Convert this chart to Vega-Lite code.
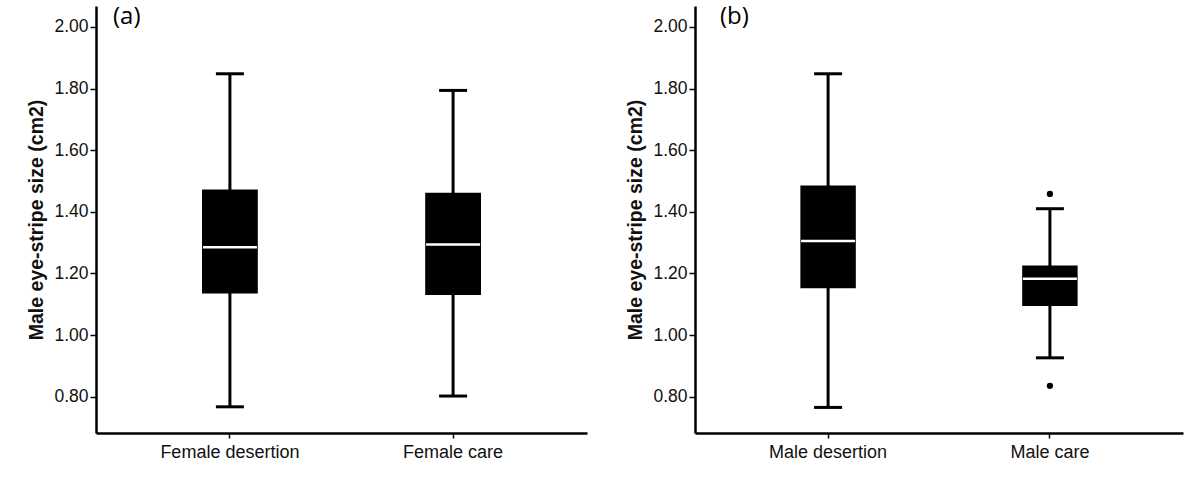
{
  "$schema": "https://vega.github.io/schema/vega-lite/v6.json",
  "padding": {"left": 26, "top": 5, "right": 15, "bottom": 0},
  "spacing": 38,
  "background": "white",
  "config": {
    "view": {"stroke": null},
    "font": "Liberation Sans",
    "axis": {
      "domainColor": "black", "domainWidth": 2.5, "tickColor": "black", "tickWidth": 1.5,
      "labelColor": "#111", "titleColor": "#111", "grid": false
    },
    "axisX": {"labelFontSize": 18, "labelAngle": 0, "tickSize": 5, "labelPadding": 5, "title": null},
    "axisY": {"labelFontSize": 17.5, "tickSize": 6, "labelPadding": 2, "titleFontSize": 19.5, "titleFontWeight": "bold", "titlePadding": 7},
    "title": {"anchor": "start", "frame": "group", "offset": -23, "baseline": "alphabetic", "fontSize": 24, "fontWeight": "normal", "font": "Open Sans", "color": "black"}
  },
  "datasets": {
    "stats": [
      {"panel": "a", "group": "Female desertion", "lower": 0.767, "q1": 1.135, "median": 1.285, "q3": 1.472, "upper": 1.848},
      {"panel": "a", "group": "Female care", "lower": 0.802, "q1": 1.13, "median": 1.294, "q3": 1.462, "upper": 1.794},
      {"panel": "b", "group": "Male desertion", "lower": 0.765, "q1": 1.152, "median": 1.305, "q3": 1.485, "upper": 1.848},
      {"panel": "b", "group": "Male care", "lower": 0.926, "q1": 1.094, "median": 1.183, "q3": 1.226, "upper": 1.41}
    ],
    "outliers": [
      {"panel": "b", "group": "Male care", "value": 1.458},
      {"panel": "b", "group": "Male care", "value": 0.835}
    ]
  },
  "hconcat": [
    {
      "title": {"text": "(a)", "dx": 17},
      "width": 491, "height": 427,
      "data": {"name": "stats"},
      "transform": [{"filter": "datum.panel === 'a'"}],
      "encoding": {
        "x": {"field": "group", "type": "nominal", "sort": ["Female desertion", "Female care"],
              "scale": {"type": "band", "paddingInner": 0, "paddingOuter": 0.1}}
      },
      "layer": [
        {"mark": {"type": "rule", "color": "black", "strokeWidth": 3},
         "encoding": {"y": {"field": "lower", "type": "quantitative", "title": "Male eye-stripe size (cm2)", "scale": {"domain": [0.682, 2.068], "nice": false, "zero": false}, "axis": {"values": [0.8, 1.0, 1.2, 1.4, 1.6, 1.8, 2.0], "format": ".2f"}}, "y2": {"field": "upper"}}},
        {"mark": {"type": "tick", "color": "black", "thickness": 3, "size": 28, "opacity": 1},
         "encoding": {"y": {"field": "lower", "type": "quantitative", "title": "Male eye-stripe size (cm2)", "scale": {"domain": [0.682, 2.068], "nice": false, "zero": false}}}},
        {"mark": {"type": "tick", "color": "black", "thickness": 3, "size": 28, "opacity": 1},
         "encoding": {"y": {"field": "upper", "type": "quantitative", "title": "Male eye-stripe size (cm2)", "scale": {"domain": [0.682, 2.068], "nice": false, "zero": false}}}},
        {"mark": {"type": "bar", "color": "black", "width": {"band": 0.25}},
         "encoding": {"y": {"field": "q1", "type": "quantitative", "title": "Male eye-stripe size (cm2)", "scale": {"domain": [0.682, 2.068], "nice": false, "zero": false}}, "y2": {"field": "q3"}}},
        {"mark": {"type": "tick", "color": "white", "thickness": 2.5, "size": 54, "opacity": 1},
         "encoding": {"y": {"field": "median", "type": "quantitative", "title": "Male eye-stripe size (cm2)", "scale": {"domain": [0.682, 2.068], "nice": false, "zero": false}}}}
      ]
    },
    {
      "title": {"text": "(b)", "dx": 25},
      "width": 488, "height": 427,
      "encoding": {
        "x": {"field": "group", "type": "nominal", "sort": ["Male desertion", "Male care"],
              "scale": {"type": "band", "paddingInner": 0, "paddingOuter": 0.1}}
      },
      "layer": [
        {"data": {"name": "stats"}, "transform": [{"filter": "datum.panel === 'b'"}],
         "mark": {"type": "rule", "color": "black", "strokeWidth": 3},
         "encoding": {"y": {"field": "lower", "type": "quantitative", "title": "Male eye-stripe size (cm2)", "scale": {"domain": [0.682, 2.068], "nice": false, "zero": false}, "axis": {"values": [0.8, 1.0, 1.2, 1.4, 1.6, 1.8, 2.0], "format": ".2f"}}, "y2": {"field": "upper"}}},
        {"data": {"name": "stats"}, "transform": [{"filter": "datum.panel === 'b'"}],
         "mark": {"type": "tick", "color": "black", "thickness": 3, "size": 28, "opacity": 1},
         "encoding": {"y": {"field": "lower", "type": "quantitative", "title": "Male eye-stripe size (cm2)", "scale": {"domain": [0.682, 2.068], "nice": false, "zero": false}}}},
        {"data": {"name": "stats"}, "transform": [{"filter": "datum.panel === 'b'"}],
         "mark": {"type": "tick", "color": "black", "thickness": 3, "size": 28, "opacity": 1},
         "encoding": {"y": {"field": "upper", "type": "quantitative", "title": "Male eye-stripe size (cm2)", "scale": {"domain": [0.682, 2.068], "nice": false, "zero": false}}}},
        {"data": {"name": "stats"}, "transform": [{"filter": "datum.panel === 'b'"}],
         "mark": {"type": "bar", "color": "black", "width": {"band": 0.25}},
         "encoding": {"y": {"field": "q1", "type": "quantitative", "title": "Male eye-stripe size (cm2)", "scale": {"domain": [0.682, 2.068], "nice": false, "zero": false}}, "y2": {"field": "q3"}}},
        {"data": {"name": "stats"}, "transform": [{"filter": "datum.panel === 'b'"}],
         "mark": {"type": "tick", "color": "white", "thickness": 2.5, "size": 54, "opacity": 1},
         "encoding": {"y": {"field": "median", "type": "quantitative", "title": "Male eye-stripe size (cm2)", "scale": {"domain": [0.682, 2.068], "nice": false, "zero": false}}}},
        {"data": {"name": "outliers"},
         "mark": {"type": "point", "filled": true, "color": "black", "size": 40, "opacity": 1},
         "encoding": {"y": {"field": "value", "type": "quantitative", "title": "Male eye-stripe size (cm2)", "scale": {"domain": [0.682, 2.068], "nice": false, "zero": false}}}}
      ]
    }
  ]
}
